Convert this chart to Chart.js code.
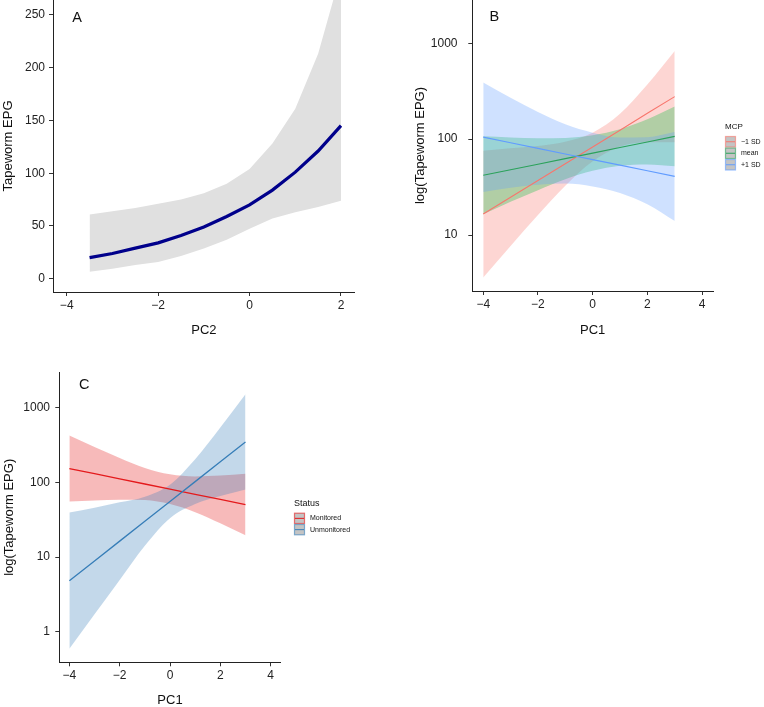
<!DOCTYPE html>
<html>
<head>
<meta charset="utf-8">
<script src="https://cdn.jsdelivr.net/npm/chart.js@4.4.1/dist/chart.umd.min.js"></script>
<style>
  html, body { margin: 0; padding: 0; background: #fff; overflow: hidden; }
  body { width: 764px; height: 707px; position: relative; }
  canvas { position: absolute; }
</style>
</head>
<body>
<canvas id="chartA"></canvas>
<canvas id="chartB"></canvas>
<canvas id="chartC"></canvas>
<script>
// ---- panel A: Tapeworm EPG vs PC2
const pc2 = [-3.5, -3, -2.5, -2, -1.5, -1, -0.5, 0, 0.5, 1, 1.5, 2];
const epgFit = [20, 24, 29, 34, 41, 49, 59, 70, 84, 101, 121, 145];
const epgUpper = [61, 64, 67, 71, 75, 81, 90, 104, 128, 161, 213, 290];
const epgLower = [6.6, 9.4, 13, 16, 21.7, 28.6, 37, 47.5, 57, 63, 68, 74];
const epgTicks = [0, 50, 100, 150, 200, 250];
const pc2Ticks = [-4, -2, 0, 2];

// ---- panel B: log(Tapeworm EPG) vs PC1 by MCP
const pc1 = [-4, -3, -2, -1, 0, 1, 2, 3];
const pcTicks = [-4, -2, 0, 2, 4];
const logTicksB = [10, 100, 1000];
const mcpLabels = ['\u22121 SD', 'mean', '+1 SD'];
const mcpColors = ['#F8766D', '#2BA25B', '#619CFF'];
const lowFit = [16.6, 24.8, 37.1, 55.5, 83, 124, 186, 278];
const lowUpper = [75.7, 80.2, 84.9, 94.2, 117, 184, 371, 832];
const lowLower = [3.6, 7.7, 16.2, 32.7, 58.7, 84, 93, 93];
const meanFit = [42, 48, 54.8, 62.7, 71.6, 81.8, 93.5, 107];
const meanUpper = [107, 104, 102, 103, 110, 127, 161, 219];
const meanLower = [16.5, 22.2, 29.4, 38.2, 46.8, 52.8, 54.5, 52.2];
const highFit = [105, 91.8, 80.2, 70.1, 61.2, 53.6, 46.8, 40.9];
const highUpper = [390, 271, 192, 143, 117, 104, 105, 119];
const highLower = [28.2, 31.1, 33.4, 34.4, 32.1, 27.5, 20.9, 14];

// ---- panel C: log(Tapeworm EPG) vs PC1 by Status
const logTicksC = [1, 10, 100, 1000];
const statusLabels = ['Monitored', 'Unmonitored'];
const statusColors = ['#E41A1C', '#377EB8'];
const monFit = [154, 131.5, 112, 95.7, 81.7, 69.7, 59.4, 50.7];
const monUpper = [427, 301, 214, 157, 129, 121, 124, 131];
const monLower = [55.7, 57.4, 58.9, 58.3, 51.5, 40.1, 28.4, 19.6];
const unmonFit = [4.82, 8.89, 16.4, 30.3, 55.8, 103, 190, 351];
const unmonUpper = [39.6, 46.1, 54.3, 64.7, 93.8, 206, 548, 1524];
const unmonLower = [0.59, 1.71, 4.95, 14.2, 33.3, 51.6, 65.9, 80.7];

const FONT = "'Liberation Sans', Arial, Helvetica, sans-serif";
Chart.defaults.font.family = FONT;

const minus = v => v < 0 ? '\u2212' + Math.abs(v) : String(v);
const pts = (xs, ys) => xs.map((x, i) => ({ x, y: ys[i] }));

function hexAlpha(hex, a) {
    const n = parseInt(hex.slice(1), 16);
    return `rgba(${n >> 16},${(n >> 8) & 255},${n & 255},${a})`;
}

function place(canvas, left, top, width, height) {
    canvas.width = width;
    canvas.height = height;
    canvas.style.left = left + 'px';
    canvas.style.top = top + 'px';
    canvas.style.width = width + 'px';
    canvas.style.height = height + 'px';
}

function fitLine(xs, ys, color, width) {
    return {
        data: pts(xs, ys), borderColor: color, borderWidth: width,
        pointRadius: 0, fill: false, tension: 0
    };
}

// upper edge fills down to the lower edge (next dataset)
function band(xs, upper, lower, color, smooth) {
    const common = { borderColor: 'rgba(0,0,0,0)', borderWidth: 0, pointRadius: 0 };
    if (smooth) common.cubicInterpolationMode = 'monotone';
    return [
        Object.assign({ data: pts(xs, upper), backgroundColor: color, fill: '+1' }, common),
        Object.assign({ data: pts(xs, lower), fill: false }, common)
    ];
}

function xAxis(min, max, ticks, title, h, titlePad) {
    return {
        type: 'linear', min, max,
        afterBuildTicks: s => { s.ticks = ticks.map(v => ({ value: v })); },
        afterFit: s => { s.height = h; },
        border: { color: '#222', width: 1 },
        grid: { drawOnChartArea: false, drawTicks: true, tickLength: 4, color: '#333' },
        ticks: { color: '#222', font: { size: 12 }, padding: 2, autoSkip: false, maxRotation: 0, callback: v => minus(v) },
        title: { display: true, text: title, color: '#111', font: { size: 13, lineHeight: 1 }, padding: { top: 0, bottom: titlePad } }
    };
}

function yAxis(type, min, max, ticks, title, w, tickPad, titlePad) {
    return {
        type, min, max,
        afterBuildTicks: s => { s.ticks = ticks.map(v => ({ value: v })); },
        afterFit: s => { s.width = w; },
        border: { color: '#222', width: 1 },
        grid: { drawOnChartArea: false, drawTicks: true, tickLength: 4, color: '#333' },
        ticks: { color: '#222', font: { size: 12 }, padding: tickPad, autoSkip: false, callback: v => String(v) },
        title: { display: true, text: title, color: '#111', font: { size: 13, lineHeight: 1 }, padding: { top: titlePad, bottom: 0 } }
    };
}

const panelLetter = {
    id: 'panelLetter',
    afterDraw(chart, args, opts) {
        const { ctx, chartArea } = chart;
        ctx.save();
        ctx.font = `14.5px ${FONT}`;
        ctx.fillStyle = '#111';
        ctx.textAlign = 'center';
        ctx.textBaseline = 'middle';
        ctx.fillText(opts.text, chartArea.left + opts.dx, chartArea.top + opts.dy);
        ctx.restore();
    }
};

const keyLegend = {
    id: 'keyLegend',
    afterDraw(chart, args, opts) {
        if (!opts.labels) return;
        const { ctx, chartArea } = chart;
        const x = chartArea.right + opts.dx;
        let y = chartArea.top + opts.dy;
        ctx.save();
        ctx.fillStyle = '#111';
        ctx.textAlign = 'left';
        ctx.textBaseline = 'middle';
        ctx.font = `${opts.titleSize}px ${FONT}`;
        ctx.fillText(opts.title, x, y);
        y += opts.gap;
        ctx.font = `${opts.textSize}px ${FONT}`;
        opts.labels.forEach((lab, i) => {
            const c = opts.colors[i];
            ctx.fillStyle = '#c4c4c4';
            ctx.fillRect(x + 0.5, y + 0.5, opts.key - 1, opts.row - 1);
            ctx.strokeStyle = hexAlpha(c, 0.6);
            ctx.lineWidth = 1.2;
            ctx.strokeRect(x + 0.5, y + 0.5, opts.key - 1, opts.row - 1);
            ctx.strokeStyle = c;
            ctx.lineWidth = 1;
            ctx.beginPath();
            ctx.moveTo(x + 1, y + opts.row / 2);
            ctx.lineTo(x + opts.key - 1, y + opts.row / 2);
            ctx.stroke();
            ctx.fillStyle = '#111';
            ctx.fillText(lab, x + opts.key + 5, y + opts.row / 2);
            y += opts.row;
        });
        ctx.restore();
    }
};

function baseOptions(scales, pad, letter, legend) {
    return {
        responsive: false, animation: false, devicePixelRatio: 1,
        layout: { padding: pad },
        scales,
        plugins: {
            legend: { display: false }, tooltip: { enabled: false },
            panelLetter: letter, keyLegend: legend || {}
        }
    };
}

// ---- A
const cA = document.getElementById('chartA');
place(cA, 0, -24, 380, 364);
new Chart(cA, {
    type: 'line',
    data: {
        datasets: [
            fitLine(pc2, epgFit, '#00008B', 3.2),
            ...band(pc2, epgUpper, epgLower, '#e0e0e0', false)
        ]
    },
    options: baseOptions({
        x: xAxis(-4.3, 2.3, pc2Ticks, 'PC2', 48, 3.5),
        y: yAxis('linear', -12.5, 264, epgTicks, 'Tapeworm EPG', 53, 4, 2)
    }, { left: 0, top: 24, right: 25.3, bottom: 0 }, { text: 'A', dx: 24, dy: 18 }),
    plugins: [panelLetter, keyLegend]
});

// ---- B
const cB = document.getElementById('chartB');
place(cB, 400, -24, 364, 364);
new Chart(cB, {
    type: 'line',
    data: {
        datasets: [
            fitLine(pc1, highFit, mcpColors[2], 1.1),
            fitLine(pc1, meanFit, mcpColors[1], 1.1),
            fitLine(pc1, lowFit, mcpColors[0], 1.1),
            ...band(pc1, highUpper, highLower, hexAlpha(mcpColors[2], 0.3), true),
            ...band(pc1, meanUpper, meanLower, hexAlpha('#00BA38', 0.3), true),
            ...band(pc1, lowUpper, lowLower, hexAlpha(mcpColors[0], 0.3), true)
        ]
    },
    options: baseOptions({
        x: xAxis(-4.4, 4.4, pcTicks, 'PC1', 49, 3.5),
        y: yAxis('logarithmic', 2.61, 2828, logTicksB, 'log(Tapeworm EPG)', 72.3, 10.8, 14.2)
    }, { left: 0, top: 24, right: 51, bottom: 0 }, { text: 'B', dx: 22, dy: 16.5 },
    { title: 'MCP', labels: mcpLabels, colors: mcpColors, dx: 12, dy: 126.5, gap: 9.5,
      key: 11, row: 11.5, titleSize: 8, textSize: 7 }),
    plugins: [panelLetter, keyLegend]
});

// ---- C
const cC = document.getElementById('chartC');
place(cC, 0, 348, 360, 359);
new Chart(cC, {
    type: 'line',
    data: {
        datasets: [
            fitLine(pc1, unmonFit, statusColors[1], 1.3),
            fitLine(pc1, monFit, statusColors[0], 1.3),
            ...band(pc1, unmonUpper, unmonLower, hexAlpha(statusColors[1], 0.3), true),
            ...band(pc1, monUpper, monLower, hexAlpha(statusColors[0], 0.3), true)
        ]
    },
    options: baseOptions({
        x: xAxis(-4.4, 4.4, pcTicks, 'PC1', 44.7, 0),
        y: yAxis('logarithmic', 0.389, 3011, logTicksC, 'log(Tapeworm EPG)', 59.3, 5.3, 2.5)
    }, { left: 0, top: 24.3, right: 79.3, bottom: 0 }, { text: 'C', dx: 25, dy: 12.7 },
    { title: 'Status', labels: statusLabels, colors: statusColors, dx: 13.3, dy: 131.7, gap: 8.7,
      key: 11, row: 11.3, titleSize: 9, textSize: 7 }),
    plugins: [panelLetter, keyLegend]
});
</script>
</body>
</html>
